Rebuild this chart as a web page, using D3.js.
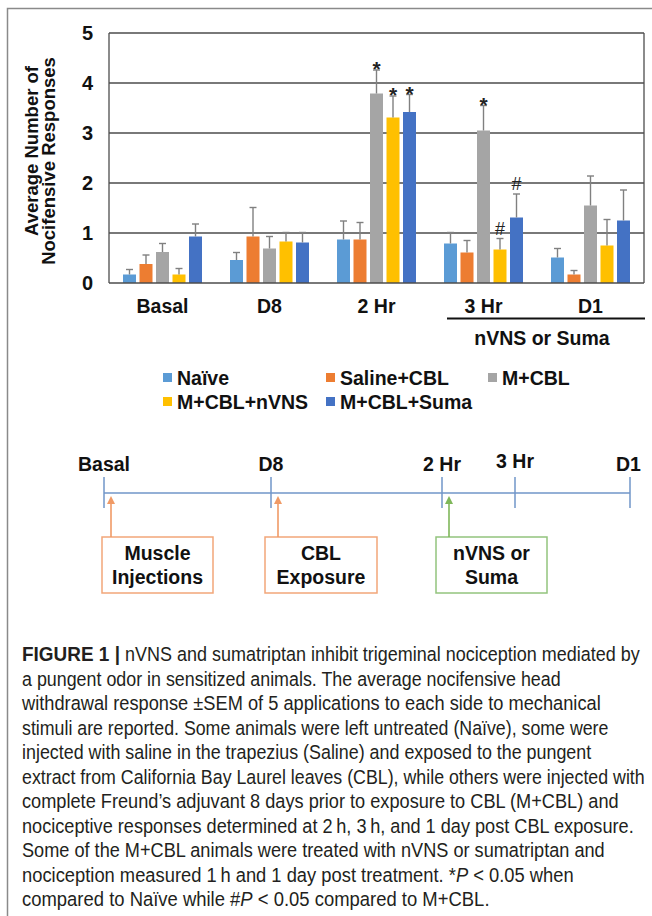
<!DOCTYPE html>
<html>
<head>
<meta charset="utf-8">
<script src="https://cdn.jsdelivr.net/npm/d3@7/dist/d3.min.js"></script>
<style>
  html, body { margin: 0; padding: 0; background: #fff; }
  svg { display: block; }
  text { font-family: "Liberation Sans", Arial, sans-serif; }
</style>
</head>
<body>
<svg id="chart" width="652" height="916"></svg>
<script>
// ---------- data ----------
const categories = ["Basal", "D8", "2 Hr", "3 Hr", "D1"];
const seriesNames = ["Naïve", "Saline+CBL", "M+CBL", "M+CBL+nVNS", "M+CBL+Suma"];
const seriesColors = ["#5b9bd5", "#ed7d31", "#a5a5a5", "#ffc000", "#4472c4"];

const naive      = [0.17, 0.46, 0.87, 0.79, 0.51];
const naiveErr   = [0.10, 0.15, 0.37, 0.22, 0.18];
const saline     = [0.38, 0.93, 0.87, 0.61, 0.17];
const salineErr  = [0.18, 0.58, 0.34, 0.24, 0.08];
const mcbl       = [0.62, 0.69, 3.79, 3.05, 1.55];
const mcblErr    = [0.17, 0.24, 0.47, 0.50, 0.59];
const nvns       = [0.17, 0.83, 3.31, 0.67, 0.75];
const nvnsErr    = [0.12, 0.18, 0.43, 0.22, 0.52];
const suma       = [0.93, 0.81, 3.42, 1.31, 1.25];
const sumaErr    = [0.25, 0.20, 0.35, 0.47, 0.61];

const naiveSig  = ["", "", "", "", ""];
const salineSig = ["", "", "", "", ""];
const mcblSig   = ["", "", "*", "*", ""];
const nvnsSig   = ["", "", "*", "#", ""];
const sumaSig   = ["", "", "*", "#", ""];

const yTicks = [0, 1, 2, 3, 4, 5];
const yLabelLines = ["Average Number of", "Nocifensive Responses"];
const bracketLabel = "nVNS or Suma";
const bracketCats = ["3 Hr", "D1"];

const timelineLabels = ["Basal", "D8", "2 Hr", "3 Hr", "D1"];
const boxes = [
  {at: "Basal", lines: ["Muscle", "Injections"], kind: "orange"},
  {at: "D8", lines: ["CBL", "Exposure"], kind: "orange"},
  {at: "2 Hr", lines: ["nVNS or", "Suma"], kind: "green"}
];

const captionBold = "FIGURE 1 |";
const captionLines = [
  "nVNS and sumatriptan inhibit trigeminal nociception mediated by",
  "a pungent odor in sensitized animals. The average nocifensive head",
  "withdrawal response \u00B1SEM of 5 applications to each side to mechanical",
  "stimuli are reported. Some animals were left untreated (Naïve), some were",
  "injected with saline in the trapezius (Saline) and exposed to the pungent",
  "extract from California Bay Laurel leaves (CBL), while others were injected with",
  "complete Freund\u2019s adjuvant 8 days prior to exposure to CBL (M+CBL) and",
  "nociceptive responses determined at 2\u2009h, 3\u2009h, and 1 day post CBL exposure.",
  "Some of the M+CBL animals were treated with nVNS or sumatriptan and",
  "nociception measured 1\u2009h and 1 day post treatment. *P < 0.05 when",
  "compared to Naïve while #P < 0.05 compared to M+CBL."
];

// ---------- build ----------
const series = [
  {name: seriesNames[0], color: seriesColors[0], values: naive,  errs: naiveErr,  sig: naiveSig},
  {name: seriesNames[1], color: seriesColors[1], values: saline, errs: salineErr, sig: salineSig},
  {name: seriesNames[2], color: seriesColors[2], values: mcbl,   errs: mcblErr,   sig: mcblSig},
  {name: seriesNames[3], color: seriesColors[3], values: nvns,   errs: nvnsErr,   sig: nvnsSig},
  {name: seriesNames[4], color: seriesColors[4], values: suma,   errs: sumaErr,   sig: sumaSig}
];

const FS = 19.5;
const svg = d3.select("#chart");

// outer frame (top + left)
svg.append("path")
  .attr("d", "M652,8.5 H7.5 V916")
  .attr("fill", "none").attr("stroke", "#8a8a8a").attr("stroke-width", 1.5);

const plot = {left: 109, right: 644, top: 33, bottom: 283};

const x = d3.scaleBand().domain(categories).range([plot.left, plot.right]).paddingInner(0).paddingOuter(0);
const xs = d3.scaleBand().domain(seriesNames).range([14, 93]).paddingInner(0.212).paddingOuter(0);
const y = d3.scaleLinear().domain([0, 5]).range([plot.bottom, plot.top]);

// gridlines
svg.append("g").selectAll("line").data(yTicks.filter(t => t > 0)).join("line")
  .attr("x1", plot.left).attr("x2", plot.right)
  .attr("y1", d => y(d)).attr("y2", d => y(d))
  .attr("stroke", "#4d4d4d").attr("stroke-width", 1.3);

// side borders
svg.append("line").attr("x1", plot.left).attr("x2", plot.left).attr("y1", y(5)).attr("y2", y(0))
  .attr("stroke", "#4d4d4d").attr("stroke-width", 1.3);
svg.append("line").attr("x1", plot.right).attr("x2", plot.right).attr("y1", y(5)).attr("y2", y(0))
  .attr("stroke", "#4d4d4d").attr("stroke-width", 1.3);

// y axis
const yAxis = svg.append("g").attr("transform", `translate(${plot.left},0)`)
  .call(d3.axisLeft(y).tickValues(yTicks).tickSize(0).tickPadding(16).tickFormat(d3.format("d")));
yAxis.select(".domain").remove();
yAxis.selectAll("text")
  .attr("font-family", "Liberation Sans, Arial, sans-serif")
  .attr("font-size", 20).attr("font-weight", "bold").attr("fill", "#111");

// bars
const groups = svg.append("g").selectAll("g").data(series).join("g");
groups.selectAll("rect").data(s => s.values.map((v, i) => ({s, v, cat: categories[i]}))).join("rect")
  .attr("x", d => x(d.cat) + xs(d.s.name))
  .attr("width", xs.bandwidth())
  .attr("y", d => y(d.v))
  .attr("height", d => y(0) - y(d.v))
  .attr("fill", d => d.s.color);

// error bars
const errG = svg.append("g").attr("stroke", "#808080").attr("stroke-width", 1.4).attr("fill", "none");
series.forEach(s => {
  s.values.forEach((v, i) => {
    const cx = x(categories[i]) + xs(s.name) + xs.bandwidth() / 2;
    const top = y(v + s.errs[i]);
    errG.append("line").attr("x1", cx).attr("x2", cx).attr("y1", y(v)).attr("y2", top);
    errG.append("line").attr("x1", cx - 3.5).attr("x2", cx + 3.5).attr("y1", top).attr("y2", top);
  });
});

// significance markers
series.forEach(s => {
  s.sig.forEach((m, i) => {
    if (!m) return;
    const cx = x(categories[i]) + xs(s.name) + xs.bandwidth() / 2;
    const top = y(s.values[i] + s.errs[i]);
    svg.append("text")
      .attr("x", cx).attr("y", m === "*" ? top + 6 : top - 4)
      .attr("text-anchor", "middle")
      .attr("font-size", m === "*" ? 21 : 18)
      .attr("font-weight", m === "*" ? "bold" : "normal")
      .attr("fill", "#222")
      .text(m);
  });
});

// baseline axis
svg.append("line").attr("x1", plot.left).attr("x2", plot.right).attr("y1", y(0)).attr("y2", y(0))
  .attr("stroke", "#4d4d4d").attr("stroke-width", 1.3);

// x labels
svg.append("g").selectAll("text").data(categories).join("text")
  .attr("x", d => x(d) + x.bandwidth() / 2).attr("y", 313)
  .attr("text-anchor", "middle").attr("font-size", FS).attr("font-weight", "bold").attr("fill", "#111")
  .text(d => d);

// bracket
const bx1 = x(bracketCats[0]) + 17, bx2 = x(bracketCats[bracketCats.length - 1]) + x.bandwidth() + 1;
svg.append("line").attr("x1", bx1).attr("x2", bx2).attr("y1", 318.5).attr("y2", 318.5)
  .attr("stroke", "#111").attr("stroke-width", 1.8);
svg.append("text").attr("x", 542).attr("y", 345).attr("text-anchor", "middle")
  .attr("font-size", FS).attr("font-weight", "bold").attr("fill", "#111").text(bracketLabel);

// y label
yLabelLines.forEach((t, i) => {
  const cx = i === 0 ? 38 : 55;
  const cy = i === 0 ? 151 : 161;
  svg.append("text")
    .attr("transform", `translate(${cx},${cy}) rotate(-90)`)
    .attr("text-anchor", "middle").attr("font-size", 18.5).attr("font-weight", "bold").attr("fill", "#111")
    .text(t);
});

// legend
const legX = [163, 326, 488];
const legY = [385, 409];
const legend = svg.append("g").selectAll("g").data(series).join("g")
  .attr("transform", (d, i) => `translate(${legX[i % 3]},${legY[Math.floor(i / 3)]})`);
legend.append("rect").attr("x", 0).attr("y", -12).attr("width", 9).attr("height", 9).attr("fill", d => d.color);
legend.append("text").attr("x", 14).attr("y", 0).attr("font-size", FS).attr("font-weight", "bold").attr("fill", "#111")
  .text(d => d.name);

// ---------- timeline ----------
const tx = d3.scaleOrdinal().domain(timelineLabels).range([104, 271, 442, 515, 630]);
const lineY = 493;
const tlColor = "#7196c9";
svg.append("line").attr("x1", tx("Basal")).attr("x2", tx("D1")).attr("y1", lineY).attr("y2", lineY)
  .attr("stroke", tlColor).attr("stroke-width", 1.5);
svg.append("g").selectAll("line").data(timelineLabels).join("line")
  .attr("x1", d => tx(d)).attr("x2", d => tx(d)).attr("y1", 477).attr("y2", 508)
  .attr("stroke", tlColor).attr("stroke-width", 1.5);
svg.append("g").selectAll("text").data(timelineLabels).join("text")
  .attr("x", d => tx(d) - (d === "D1" ? 1.5 : 0)).attr("y", d => d === "3 Hr" ? 468 : 471)
  .attr("text-anchor", "middle").attr("font-size", FS).attr("font-weight", "bold").attr("fill", "#111")
  .text(d => d);

const boxColors = {orange: {stroke: "#f2a679", arrow: "#f09a66"}, green: {stroke: "#93c47d", arrow: "#7fb75a"}};
const boxW = {"Basal": [102, 213], "D8": [265, 377], "2 Hr": [436, 547]};
boxes.forEach(b => {
  const c = boxColors[b.kind];
  const [x0, x1] = boxW[b.at];
  const ax = tx(b.at) + 7;
  svg.append("rect").attr("x", x0).attr("y", 537).attr("width", x1 - x0).attr("height", 56)
    .attr("fill", "#fff").attr("stroke", c.stroke).attr("stroke-width", 1.5);
  svg.append("line").attr("x1", ax).attr("x2", ax).attr("y1", 537).attr("y2", 503)
    .attr("stroke", c.arrow).attr("stroke-width", 1.6);
  svg.append("path").attr("d", `M${ax},496 L${ax - 4},504 L${ax + 4},504 Z`).attr("fill", c.arrow);
  b.lines.forEach((t, i) => {
    svg.append("text").attr("x", (x0 + x1) / 2).attr("y", 560 + i * 24)
      .attr("text-anchor", "middle").attr("font-size", 19.5).attr("font-weight", "bold").attr("fill", "#111")
      .text(t);
  });
});

// ---------- caption (horizontally condensed to match the line widths) ----------
const capX = 22, capY0 = 661, capDy = 24.5;
const capEnds = [640, 561, 601, 609, 592, 645, 619, 634, 605, 574, 490];
function fitLine(el, x0, yb, target) {
  const w = el.node().getComputedTextLength();
  const k = target / w;
  el.attr("x", 0).attr("y", 0).attr("transform", `translate(${x0},${yb}) scale(${k},1)`);
}
const boldEl = svg.append("text")
  .attr("font-family", "Roboto, Liberation Sans, sans-serif")
  .attr("font-size", 19.5).attr("font-weight", "bold").attr("fill", "#231f20")
  .text(captionBold);
fitLine(boldEl, capX, capY0, 98);
captionLines.forEach((t, i) => {
  const sx = i === 0 ? 125 : capX;
  const el = svg.append("text")
    .attr("font-family", "Roboto, Liberation Sans, sans-serif")
    .attr("font-size", 19.5).attr("font-weight", 300).attr("fill", "#231f20");
  const parts = t.split(/(\*P|#P)/);
  parts.forEach(p => {
    if (p === "*P" || p === "#P") {
      el.append("tspan").text(p[0] + "");
      el.append("tspan").attr("font-style", "italic").text("P");
    } else if (p) {
      el.append("tspan").text(p);
    }
  });
  fitLine(el, sx, capY0 + i * capDy, capEnds[i] - sx);
});
</script>
</body>
</html>
